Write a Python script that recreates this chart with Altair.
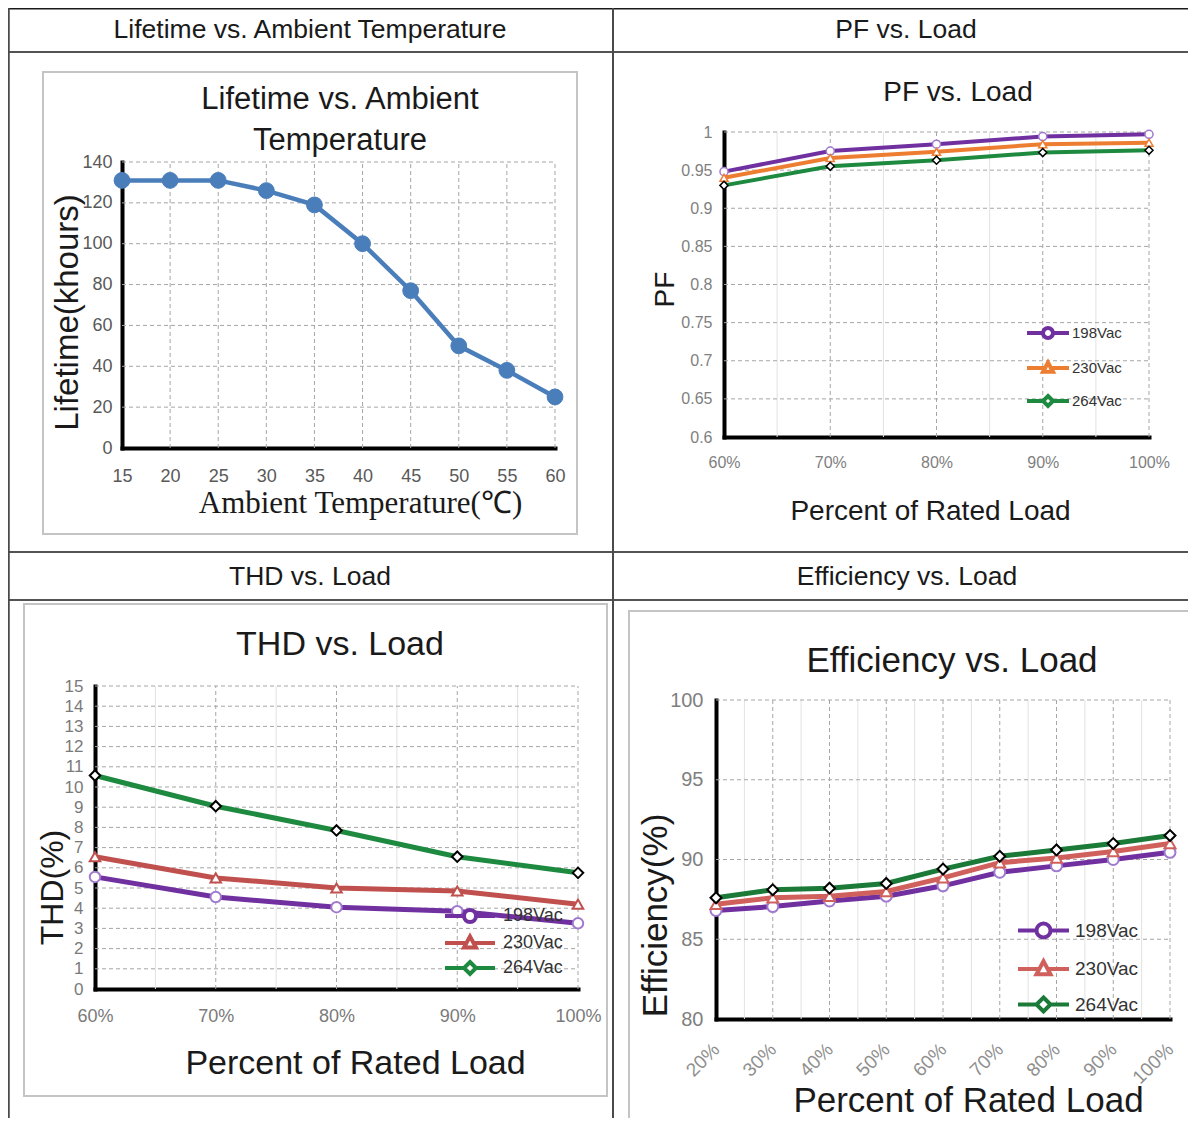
import altair as alt
import pandas as pd

# ---------------- data ----------------
header_texts = ["Lifetime vs. Ambient Temperature", "PF vs. Load", "THD vs. Load", "Efficiency vs. Load"]

life_title = ["Lifetime vs. Ambient", "Temperature"]
life_temp = [15, 20, 25, 30, 35, 40, 45, 50, 55, 60]
life_hours = [131, 131, 131, 126, 119, 100, 77, 50, 38, 25]
life_yticks = [0, 20, 40, 60, 80, 100, 120, 140]

series_names = ["198Vac", "230Vac", "264Vac"]

pf_load = [60, 70, 80, 90, 100]
pf_198 = [0.948, 0.975, 0.984, 0.994, 0.997]
pf_230 = [0.940, 0.966, 0.974, 0.984, 0.986]
pf_264 = [0.930, 0.955, 0.963, 0.973, 0.976]
pf_yticks = [0.6, 0.65, 0.7, 0.75, 0.8, 0.85, 0.9, 0.95, 1.0]
pf_minor = [65, 75, 85, 95]

thd_load = [60, 70, 80, 90, 100]
thd_198 = [5.55, 4.55, 4.05, 3.85, 3.25]
thd_230 = [6.55, 5.5, 5.0, 4.85, 4.2]
thd_264 = [10.57, 9.05, 7.85, 6.55, 5.75]
thd_yticks = [0, 1, 2, 3, 4, 5, 6, 7, 8, 9, 10, 11, 12, 13, 14, 15]
thd_minor = [65, 75, 85, 95]

eff_load = [20, 30, 40, 50, 60, 70, 80, 90, 100]
eff_198 = [86.8, 87.05, 87.4, 87.7, 88.35, 89.2, 89.6, 90.0, 90.45]
eff_230 = [87.2, 87.6, 87.7, 88.0, 88.85, 89.8, 90.1, 90.5, 91.0]
eff_264 = [87.6, 88.1, 88.2, 88.5, 89.4, 90.2, 90.6, 91.0, 91.5]
eff_yticks = [80, 85, 90, 95, 100]
eff_minor = [25, 35, 45, 55, 65, 75, 85, 95]

# ---------------- layout helpers ----------------
W, H = 1180, 1110
M = 8  # page margin
FONT = "Liberation Sans"
SERIF = "Liberation Serif"
TXT = "#1a1a1a"
PCT = "datum.value + '%'"
NUM = "format(datum.value, '~g')"
LEG_S = 12  # sqrt of legend symbol size
UNIT = LEG_S / 2.0


def px(v):
    return v - M


def py(v):
    return v - M


def one_row():
    return pd.DataFrame({"k": [0]})


def long_df(xs, series):
    rows = []
    for name, vals in series:
        for x, v in zip(xs, vals):
            rows.append({"x": x, "y": v, "series": name})
    return pd.DataFrame(rows)


def text_layer(txt, x, y, size, font=FONT, color=TXT):
    return alt.Chart(pd.DataFrame({"t": [txt]})).mark_text(
        font=font, fontSize=size, color=color, align="center", baseline="middle").encode(
        text="t:N", x=alt.value(px(x)), y=alt.value(py(y)))


def hline(y, x1, x2, color, w):
    return alt.Chart(one_row()).mark_rule(color=color, strokeWidth=w).encode(
        x=alt.value(x1), x2=alt.value(x2), y=alt.value(y))


def vline(x, y1, y2, color, w):
    return alt.Chart(one_row()).mark_rule(color=color, strokeWidth=w).encode(
        x=alt.value(x), y=alt.value(y1), y2=alt.value(y2))


def box(x1, y1, x2, y2):
    return alt.Chart(one_row()).mark_rect(fill="transparent", stroke="#c4c4c4", strokeWidth=2).encode(
        x=alt.value(px(x1)), x2=alt.value(px(x2)), y=alt.value(py(y1)), y2=alt.value(py(y2)))


def x_axis(ybot, ticks, expr, lsize, lcolor, lpad, title, tfont, tsize, tc,
           angle=0, align="center", baseline="top"):
    return alt.Axis(
        orient="bottom", offset=py(ybot) - H, values=ticks, labelExpr=expr,
        grid=False, ticks=False, tickSize=0, domainColor="black", domainWidth=4,
        domainCap="square", labelFont=FONT, labelFontSize=lsize, labelColor=lcolor,
        labelPadding=lpad, labelFlush=False, labelOverlap=False, labelAngle=angle,
        labelAlign=align, labelBaseline=baseline, title=title, titleFont=tfont,
        titleFontSize=tsize, titleFontWeight="normal", titleColor=TXT,
        titleX=px(tc[0]), titleY=tc[1] - ybot, titleAlign="center",
        titleBaseline="middle", titleAngle=0)


def y_axis(xleft, ticks, expr, lsize, lcolor, lpad, title, tsize, tc):
    return alt.Axis(
        orient="left", offset=-px(xleft), values=ticks, labelExpr=expr,
        grid=False, ticks=False, tickSize=0, domainColor="black", domainWidth=4,
        domainCap="square", labelFont=FONT, labelFontSize=lsize, labelColor=lcolor,
        labelPadding=lpad, labelFlush=False, labelOverlap=False,
        labelAlign="right", labelBaseline="middle", title=title, titleFont=FONT,
        titleFontSize=tsize, titleFontWeight="normal", titleColor=TXT,
        titleX=tc[0] - xleft, titleY=py(tc[1]), titleAlign="center",
        titleBaseline="middle", titleAngle=270)


def legend_path(half_px, r_px, kind):
    half = half_px / UNIT
    r = r_px / UNIT
    if kind == "circle":
        lead = r
        mk = f"M{r:.3f},0A{r:.3f},{r:.3f} 0 1 1 {-r:.3f},0A{r:.3f},{r:.3f} 0 1 1 {r:.3f},0Z"
    elif kind == "triangle":
        lead = r * 0.6
        mk = f"M0,{-r * 1.1:.3f}L{r:.3f},{r * 0.75:.3f}L{-r:.3f},{r * 0.75:.3f}Z"
    else:
        lead = r
        mk = f"M0,{-r:.3f}L{r:.3f},0L0,{r:.3f}L{-r:.3f},0Z"
    return f"M{-half:.3f},0L{-lead:.3f},0M{lead:.3f},0L{half:.3f},0" + mk


def panel(df, xdom, xr, ydom, yr, xticks, yticks, minor, xa, ya, styles,
          line_w, msize, msw, legend=None):
    xs = alt.Scale(domain=xdom, range=[px(xr[0]), px(xr[1])], nice=False, zero=False)
    ys = alt.Scale(domain=ydom, range=[py(yr[0]), py(yr[1])], nice=False, zero=False)

    def X(f):
        return alt.X(f, type="quantitative", scale=xs, axis=xa)

    def Y(f):
        return alt.Y(f, type="quantitative", scale=ys, axis=ya)

    layers = []
    if minor:
        layers.append(alt.Chart(pd.DataFrame({"mx": minor})).mark_rule(
            color="#e2e2e2", strokeWidth=1).encode(
            x=X("mx"), y=alt.YDatum(ydom[0], type="quantitative", scale=ys, axis=ya),
            y2=alt.Y2Datum(ydom[1])))
    layers.append(alt.Chart(pd.DataFrame({"gx": xticks[1:]})).mark_rule(
        color="#a6a6a6", strokeWidth=1, strokeDash=[4, 3]).encode(
        x=X("gx"), y=alt.YDatum(ydom[0], type="quantitative", scale=ys, axis=ya),
        y2=alt.Y2Datum(ydom[1])))
    layers.append(alt.Chart(pd.DataFrame({"gy": yticks[1:]})).mark_rule(
        color="#a6a6a6", strokeWidth=1, strokeDash=[4, 3]).encode(
        y=Y("gy"), x=alt.XDatum(xdom[0], type="quantitative", scale=xs, axis=xa),
        x2=alt.X2Datum(xdom[1])))

    for name, lc, shp, mfill, mstroke in styles:
        base = alt.Chart(df).transform_filter(alt.datum.series == name)
        layers.append(base.mark_line(color=lc, strokeWidth=line_w).encode(x=X("x"), y=Y("y")))
        layers.append(base.mark_point(shape=shp, filled=True, fill=mfill, stroke=mstroke,
                                      strokeWidth=msw, size=msize, opacity=1).encode(
            x=X("x"), y=Y("y")))

    if legend is not None:
        lx, ly, loff, rpad, lsize, half, r = legend
        leg = alt.Legend(orient="none", legendX=px(lx), legendY=py(ly), title=None,
                         symbolSize=LEG_S * LEG_S, symbolStrokeWidth=4, symbolOpacity=1,
                         labelFont=FONT, labelFontSize=lsize, labelColor="#333333",
                         labelOffset=loff, rowPadding=rpad, padding=0)
        paths = [legend_path(half, r, k) for k in ["circle", "triangle", "diamond"]]
        colors = [s[1] for s in styles]
        layers.append(alt.Chart(pd.DataFrame({"series": series_names})).transform_filter(
            "false").mark_point(filled=False, fill="white", strokeWidth=4).encode(
            color=alt.Color("series:N", scale=alt.Scale(domain=series_names, range=colors), legend=leg),
            shape=alt.Shape("series:N", scale=alt.Scale(domain=series_names, range=paths), legend=leg)))
    return alt.layer(*layers)


# ---------------- panels ----------------
PURPLE = "#7030a0"
LAV = "#a07ad0"
GREEN = "#1e8a40"

life_df = long_df(life_temp, [("Lifetime", life_hours)])
life = panel(
    life_df, [15, 60], (122, 555), [0, 140], (448, 162), life_temp, life_yticks, None,
    x_axis(448, life_temp, NUM, 18, "#595959", 19, "Ambient Temperature(\u2103)", SERIF, 31, (360, 503)),
    y_axis(122, life_yticks, NUM, 18, "#595959", 10, "Lifetime(khours)", 33, (67, 312)),
    [("Lifetime", "#4a7ebb", "circle", "#4a7ebb", "#4a7ebb")], 4.5, 250, 1)

pf_df = long_df(pf_load, zip(series_names, [pf_198, pf_230, pf_264]))
pf = panel(
    pf_df, [60, 100], (724, 1149), [0.6, 1.0], (437, 132), pf_load, pf_yticks, pf_minor,
    x_axis(437, pf_load, PCT, 16, "#7f7f7f", 17, "Percent of Rated Load", FONT, 28, (930, 511)),
    y_axis(724, pf_yticks, NUM, 16, "#7f7f7f", 12, "PF", 28, (665, 289)),
    [("198Vac", PURPLE, "circle", "white", LAV),
     ("230Vac", "#ed7d31", "triangle-up", "white", "#ed7d31"),
     ("264Vac", GREEN, "diamond", "white", "black")], 4, 65, 1.5,
    legend=(1040, 325, 16, 8, 15, 21, 5))

thd_df = long_df(thd_load, zip(series_names, [thd_198, thd_230, thd_264]))
thd = panel(
    thd_df, [60, 100], (95, 578), [0, 15], (989, 686), thd_load, thd_yticks, thd_minor,
    x_axis(989, thd_load, PCT, 18, "#7a7a7a", 18, "Percent of Rated Load", FONT, 34, (355, 1063)),
    y_axis(95, thd_yticks, NUM, 17, "#7a7a7a", 12, "THD(%)", 32, (52, 887)),
    [("198Vac", PURPLE, "circle", "white", LAV),
     ("230Vac", "#c0504d", "triangle-up", "white", "#c0504d"),
     ("264Vac", GREEN, "diamond", "white", "black")], 5, 110, 2,
    legend=(461, 907, 24, -2, 18, 25, 6))

eff_df = long_df(eff_load, zip(series_names, [eff_198, eff_230, eff_264]))
eff = panel(
    eff_df, [20, 100], (716, 1170), [80, 100], (1019, 700), eff_load, eff_yticks, eff_minor,
    x_axis(1019, eff_load, PCT, 19, "#8f8f8f", 27, "Percent of Rated Load", FONT, 35, (968, 1100),
           angle=315, align="right", baseline="middle"),
    y_axis(716, eff_yticks, NUM, 20, "#7f7f7f", 13, "Efficiency(%)", 35, (655, 915)),
    [("198Vac", PURPLE, "circle", "white", LAV),
     ("230Vac", "#d0605c", "triangle-up", "white", "#d0605c"),
     ("264Vac", "#1b7a37", "diamond", "white", "black")], 5, 120, 2,
    legend=(1034, 921, 22, 6.5, 19, 25.5, 7))

# ---------------- table & titles ----------------
deco = [
    box(43, 72, 577, 534),
    box(24, 604, 607, 1096),
    box(629, 611, 1215, 1150),
    hline(0.75, 0, W, "#1a1a1a", 1.5),
    hline(py(52), 0, W, "#1a1a1a", 1.5),
    hline(py(552), 0, W, "#1a1a1a", 1.5),
    hline(py(600), 0, W, "#1a1a1a", 1.5),
    vline(0.75, 0, H, "#4a4a4a", 2),
    vline(px(613), 0, H, "#4a4a4a", 2),
    text_layer(header_texts[0], 310, 30, 26.5),
    text_layer(header_texts[1], 906, 30, 26.5),
    text_layer(header_texts[2], 310, 577, 26.5),
    text_layer(header_texts[3], 907, 577, 26.5),
    text_layer(life_title[0], 340, 100, 31),
    text_layer(life_title[1], 340, 141, 31),
    text_layer("PF vs. Load", 958, 93, 28),
    text_layer("THD vs. Load", 340, 645, 34),
    text_layer("Efficiency vs. Load", 952, 661, 35),
]

chart = alt.layer(*deco, life, pf, thd, eff).resolve_scale(
    x="independent", y="independent", color="independent", shape="independent"
).resolve_axis(x="independent", y="independent").resolve_legend(
    color="independent", shape="independent"
).properties(
    width=W, height=H, autosize=alt.AutoSizeParams(type="none"), padding=0
).configure_view(stroke=None).configure(background="white")

chart.save("out.html", embed_options={"renderer": "svg", "actions": False})
